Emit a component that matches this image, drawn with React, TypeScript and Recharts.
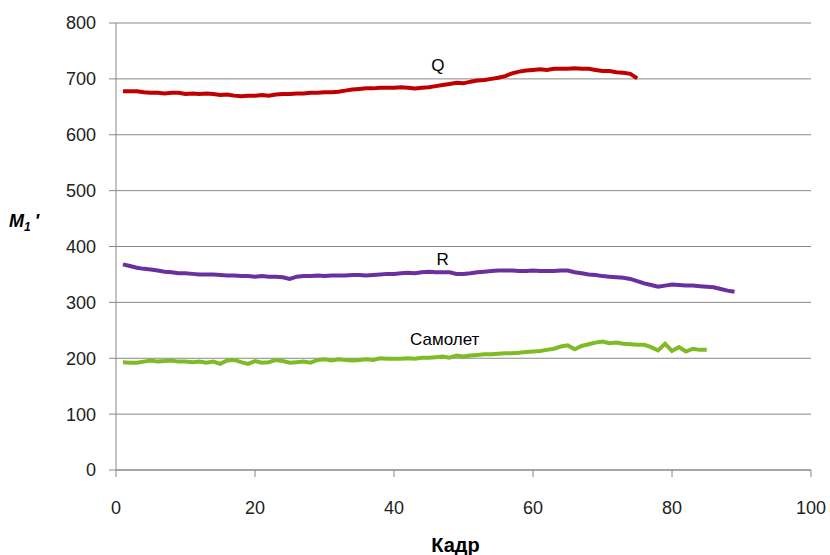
import { LineChart, Line, XAxis, YAxis, CartesianGrid, ReferenceDot, Label } from 'recharts';

// frame numbers start at 1 for every series
const qValues = [
  678, 678, 678, 676, 675, 675, 674, 675, 675, 673,
  674, 673, 674, 673, 671, 672, 670, 669, 670, 670,
  671, 670, 672, 673, 673, 674, 674, 675, 675, 676,
  676, 677, 679, 681, 682, 683, 683, 684, 684, 684,
  685, 684, 683, 684, 685, 687, 689, 691, 693, 692,
  695, 697, 698, 700, 702, 705, 710, 713, 715, 716,
  717, 716, 718, 718, 718, 719, 718, 718, 716, 714,
  714, 712, 711, 709, 701,
];

const rValues = [
  368, 365, 362, 360, 359, 357, 355, 354, 352, 352,
  351, 350, 350, 350, 349, 348, 348, 347, 347, 346,
  347, 346, 346, 345, 342, 346, 347, 347, 348, 347,
  348, 348, 348, 349, 349, 348, 349, 350, 351, 351,
  352, 353, 352, 354, 355, 354, 354, 354, 351, 351,
  352, 354, 355, 356, 357, 357, 357, 356, 356, 357,
  356, 356, 356, 357, 357, 354, 352, 350, 349, 347,
  346, 345, 344, 342, 338, 334, 331, 328, 330, 332,
  331, 330, 330, 329, 328, 327, 324, 321, 319,
];

const planeValues = [
  193, 192, 192, 194, 196, 194, 195, 196, 194, 194,
  193, 194, 192, 194, 190, 196, 197, 193, 190, 195,
  192, 193, 197, 195, 192, 193, 194, 192, 197, 198,
  196, 198, 197, 196, 197, 198, 197, 200, 199, 199,
  199, 200, 199, 201, 201, 202, 203, 201, 205, 203,
  205, 206, 207, 207, 208, 209, 209, 210, 211, 212,
  213, 215, 217, 221, 223, 216, 222, 225, 228, 230,
  227, 228, 226, 225, 224, 224, 220, 214, 226, 213,
  220, 212, 217, 215, 215,
];

const xTicks = [0, 20, 40, 60, 80, 100];
const yTicks = [0, 100, 200, 300, 400, 500, 600, 700, 800];

const seriesLabels = [
  { text: 'Q', frame: 46.3, value: 725 },
  { text: 'R', frame: 47, value: 378 },
  { text: 'Самолет', frame: 47.3, value: 235 },
];

const toPoints = (values: number[]) => values.map((v, i) => ({ frame: i + 1, value: v }));

const FONT = '"Liberation Sans", Arial, sans-serif';

function YTitle(props: any) {
  const vb = props.viewBox || { x: 0, y: 0, height: 0 };
  return (
    <text
      x={vb.x + 9}
      y={vb.y + vb.height * 0.456}
      fontFamily={FONT}
      fontWeight="bold"
      fontStyle="italic"
      fontSize={18}
      fill="#000"
    >
      <tspan>M</tspan>
      <tspan fontSize={12} dy={4}>1</tspan>
      <tspan dy={-4} dx={4}>′</tspan>
    </text>
  );
}

export default function App() {
  return (
    <div style={{ width: 830, height: 555 }}>
      <style>{'body{margin:0}'}</style>
      <LineChart width={830} height={555} margin={{ top: 23, right: 19, bottom: 0, left: 0 }}>
        <CartesianGrid vertical={false} stroke="#888" />
        <XAxis
          type="number"
          dataKey="frame"
          domain={[0, 100]}
          ticks={xTicks}
          allowDataOverflow
          height={85}
          stroke="#888"
          tickSize={7}
          tickMargin={24}
          tick={{ fill: '#222', fontSize: 18, fontFamily: FONT }}
        >
          <Label
            value="Кадр"
            position="insideBottom"
            offset={3}
            dx={-8}
            style={{ fontFamily: FONT, fontWeight: 'bold', fontSize: 20, fill: '#000' }}
          />
        </XAxis>
        <YAxis
          type="number"
          domain={[0, 800]}
          ticks={yTicks}
          width={116}
          stroke="#888"
          tickSize={7}
          tickMargin={13}
          tick={{ fill: '#222', fontSize: 18, fontFamily: FONT }}
        >
          <Label content={<YTitle />} />
        </YAxis>
        <Line
          data={toPoints(qValues)}
          dataKey="value"
          stroke="#C00000"
          strokeWidth={4}
          dot={false}
          type="linear"
          isAnimationActive={false}
        />
        <Line
          data={toPoints(rValues)}
          dataKey="value"
          stroke="#6A30A0"
          strokeWidth={4}
          dot={false}
          type="linear"
          isAnimationActive={false}
        />
        <Line
          data={toPoints(planeValues)}
          dataKey="value"
          stroke="#80BA24"
          strokeWidth={4}
          dot={false}
          type="linear"
          isAnimationActive={false}
        />
        {seriesLabels.map((l) => (
          <ReferenceDot
            key={l.text}
            x={l.frame}
            y={l.value}
            r={0}
            fill="none"
            stroke="none"
            label={{ value: l.text, position: 'center', fill: '#000', fontSize: 17, fontFamily: FONT }}
          />
        ))}
      </LineChart>
    </div>
  );
}
